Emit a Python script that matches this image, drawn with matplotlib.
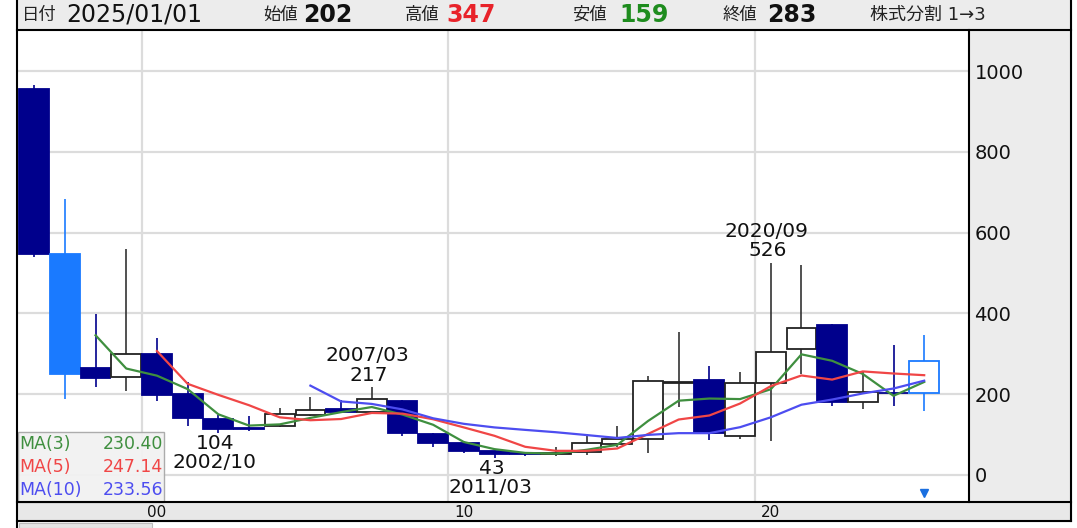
import numpy as np
import pandas as pd
import matplotlib
matplotlib.use('Agg')
import matplotlib.pyplot as plt
from matplotlib.patches import Rectangle

plt.rcParams['font.family'] = ['DejaVu Sans', 'Noto Sans CJK JP']

# yearly candles, split adjusted
years = list(range(1996, 2026))
opens = [956, 547, 265, 242, 300, 201, 138, 116, 122, 149,
         163, 157, 182, 101, 80, 60, 54, 51, 58, 77,
         88, 229, 235, 97, 229, 312, 371, 180, 204, 202]
highs = [967, 684, 399, 560, 339, 231, 149, 146, 167, 194,
         186, 217, 185, 104, 83, 62, 58, 70, 102, 121,
         245, 354, 271, 256, 526, 519, 373, 254, 321, 347]
lows = [541, 188, 217, 209, 184, 121, 104, 110, 120, 147,
        153, 155, 97, 70, 54, 43, 47, 48, 50, 70,
        54, 168, 87, 90, 85, 250, 172, 163, 172, 159]
closes = [547, 250, 241, 300, 197, 141, 113, 113, 150, 161,
          156, 188, 105, 80, 60, 52, 52, 55, 80, 89,
          232, 231, 105, 227.9, 304, 364.5, 180, 206.1, 202.1, 283]

split_year = 1997

ma_periods = [3, 5, 10]
ma_colors = ['#3f8f3f', '#f04646', '#4d4df0']

x_tick_years = [2000, 2010, 2020]
x_tick_labels = ['00', '10', '20']
y_ticks = [0, 200, 400, 600, 800, 1000]

# (year, value, date, kind)
extremes = [
    (2007, 217, '2007/03', 'high'),
    (2020, 526, '2020/09', 'high'),
    (2002, 104, '2002/10', 'low'),
    (2011, 43, '2011/03', 'low'),
]

header = [
    ('日付', '2025/01/01', '#111111', 'normal'),
    ('始値', '202', '#111111', 'bold'),
    ('高値', '347', '#e8232a', 'bold'),
    ('安値', '159', '#1e8c1e', 'bold'),
    ('終値', '283', '#111111', 'bold'),
]
header_x = [(22, 66), (263, 303), (405, 446), (572, 619), (723, 767)]
split_note = '株式分割 1→3'

W, H = 1077, 528
NAVY = '#00008c'
LIGHT = '#1a7aff'

fig = plt.figure(figsize=(W / 100, H / 100), dpi=100)

# background panels (pixel coords)
bg = fig.add_axes([0, 0, 1, 1], zorder=-1)
bg.set_xlim(0, W)
bg.set_ylim(H, 0)
bg.axis('off')
bg.add_patch(Rectangle((17, 0), 1054, 29.5, color='#ececec'))
bg.add_patch(Rectangle((969, 29.5), 102, 473, color='#ececec'))
bg.add_patch(Rectangle((17, 502), 1054, 19, color='#e8e8e8'))
bg.add_patch(Rectangle((19, 523), 133, 5, facecolor='#e4e4e4', edgecolor='#bbbbbb', lw=0.8))

# main chart
ax = fig.add_axes([17 / W, (H - 502) / H, (969 - 17) / W, (502 - 29.5) / H], zorder=0)
ax.set_facecolor('white')
for s in ax.spines.values():
    s.set_visible(False)
ax.set_xlim(1995.44, 2026.46)
ax.set_ylim(-66.9, 1103.3)

o = np.array(opens, dtype=float)
h = np.array(highs, dtype=float)
l = np.array(lows, dtype=float)
c = np.array(closes, dtype=float)

face, edge, wick = [], [], []
for i, yr in enumerate(years):
    if yr == split_year:
        face.append(LIGHT); edge.append(LIGHT); wick.append(LIGHT)
    elif i == len(years) - 1:
        face.append('white'); edge.append(LIGHT); wick.append(LIGHT)
    elif c[i] < o[i]:
        face.append(NAVY); edge.append(NAVY); wick.append(NAVY)
    else:
        face.append('white'); edge.append('#222222'); wick.append('#333333')

ax.vlines(years, l, h, colors=wick, lw=1.2, zorder=2)
ax.bar(years, np.abs(c - o), bottom=np.minimum(o, c), width=0.97,
       color=face, edgecolor=edge, linewidth=1.3, zorder=3)

close_series = pd.Series(c)
ma_values = []
for n, col in zip(ma_periods, ma_colors):
    ma = close_series.rolling(n).mean()
    ma_values.append(ma.iloc[-1])
    ax.plot(years, ma, color=col, lw=1.6, zorder=4)

for yr, val, date, kind in extremes:
    if kind == 'high':
        offs = (12, 31.5)
    else:
        offs = (-10.5, -30)
    ax.annotate(str(val), xy=(yr, val), xytext=(-3, offs[0]), textcoords='offset pixels',
                ha='center', va='center', fontsize=14.5, color='#111111', zorder=6)
    ax.annotate(date, xy=(yr, val), xytext=(-4, offs[1]), textcoords='offset pixels',
                ha='center', va='center', fontsize=14.5, color='#111111', zorder=6)

ax.plot([years[-1]], [0.019], marker='v', color='#1a6fe0', markersize=6,
        transform=ax.get_xaxis_transform(), zorder=6)

ax.yaxis.tick_right()
ax.set_yticks(y_ticks)
ax.set_yticklabels([str(v) for v in y_ticks])
ax.tick_params(axis='y', length=0, pad=4, labelsize=14, labelcolor='#111111')
ax.set_xticks(x_tick_years)
ax.set_xticklabels(x_tick_labels)
ax.set_xticks([v - 0.5 for v in x_tick_years], minor=True)
ax.tick_params(axis='x', which='both', length=0, pad=2.5, labelsize=11, labelcolor='#111111')
ax.grid(which='major', axis='y', color='#dcdcdc', lw=1.6)
ax.grid(which='minor', axis='x', color='#dcdcdc', lw=1.6)
ax.set_axisbelow(True)

# overlay: borders, header, MA box
top = fig.add_axes([0, 0, 1, 1], zorder=5)
top.set_xlim(0, W)
top.set_ylim(H, 0)
top.axis('off')
top.patch.set_visible(False)

k = dict(color='black', lw=1.5)
top.plot([17, 17], [0, H], **k)
top.plot([17, 1071], [29.5, 29.5], **k)
top.plot([969, 969], [29.5, 502], **k)
top.plot([17, 1071], [502, 502], **k)
top.plot([17, 1071], [521, 521], **k)
top.plot([1071, 1071], [0, 521], **k)

for (lab, val, col, wt), (xl, xv) in zip(header, header_x):
    top.text(xl, 15, lab, fontsize=12.5, color='#222222', va='center', ha='left')
    top.text(xv, 15, val, fontsize=17, color=col, fontweight=wt, va='center', ha='left')
top.text(870, 15, split_note, fontsize=13, color='#222222', va='center', ha='left')

top.add_patch(Rectangle((17.5, 432), 146.5, 69.5, facecolor='#f2f2f2', edgecolor='#a8a8a8',
                        lw=1.0, alpha=0.95))
for j, (n, col, v) in enumerate(zip(ma_periods, ma_colors, ma_values)):
    yy = 444 + j * 23
    top.text(19, yy, f'MA({n})', fontsize=12.5, color=col, va='center', ha='left')
    top.text(163, yy, f'{v:.2f}', fontsize=12.5, color=col, va='center', ha='right')

fig.savefig('out.png', dpi=100)
